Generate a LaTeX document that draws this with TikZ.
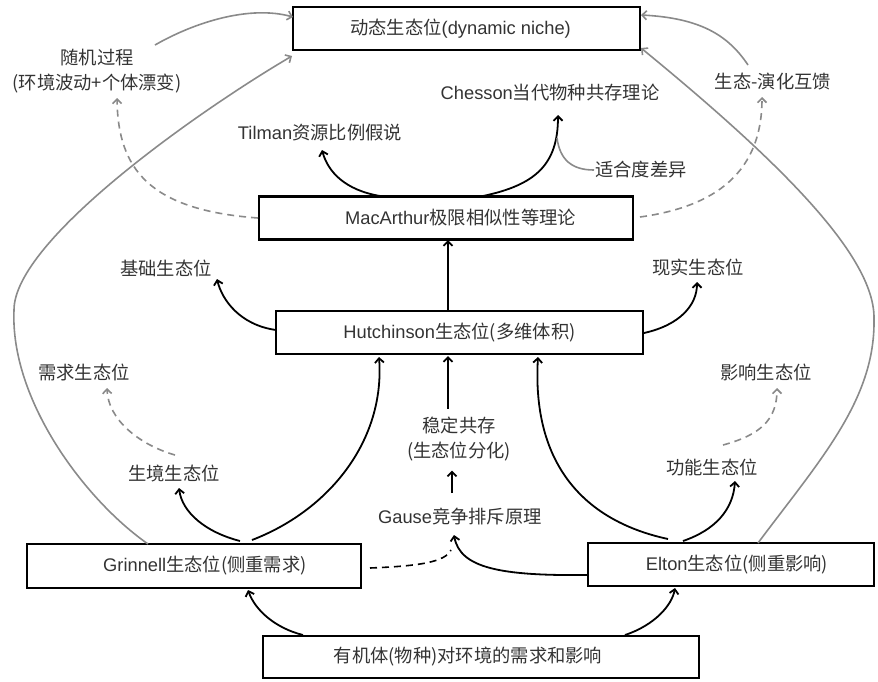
\documentclass[tikz,border=0pt]{standalone}
\usepackage{fontspec}
\setmainfont{Liberation Sans}
\newfontfamily\cjk{Noto Sans CJK SC}
\usetikzlibrary{arrows.meta}
\newcommand{\zh}[1]{{\cjk #1}}
\definecolor{txt}{HTML}{333333}
\definecolor{lgray}{HTML}{8A8A8A}
\begin{document}
\begin{tikzpicture}[x=1pt,y=-1pt,
  every node/.style={font=\fontsize{18.3}{25}\selectfont, text=txt},
  box/.style={draw=black, line width=2.6pt, inner sep=0pt, minimum height=43pt},
  lbl/.style={inner sep=1pt, align=center},
  tip/.style={-{Straight Barb[length=4.5pt,width=9pt]}},
  arr/.style={draw=black, line width=1.8pt, tip},
  garr/.style={draw=lgray, line width=1.6pt, tip},
  dgarr/.style={garr, dash pattern=on 7pt off 5pt},
  dline/.style={draw=black, line width=1.6pt, dash pattern=on 7pt off 5pt}
]
\useasboundingbox (0,0) rectangle (878,681);

% boxes
\node[box, minimum width=347pt] (dyn) at (466.5,28.5) {\zh{动态生态位}(dynamic niche)\hspace*{12pt}};
\node[box, minimum width=374pt] (mac) at (446,218) {\hspace*{29pt}MacArthur\zh{极限相似性等理论}};
\node[box, minimum width=367pt] (hut) at (459.5,332.5) {Hutchinson\zh{生态位(多维体积)}};
\node[box, minimum width=334pt, minimum height=44pt] (grin) at (194,566) {\hspace*{22pt}Grinnell\zh{生态位(侧重需求)}};
\node[box, minimum width=286pt] (elton) at (731,564.5) {\hspace*{12pt}Elton\zh{生态位(侧重影响)}};
\node[box, minimum width=436pt, minimum height=42pt] (bot) at (481,657) {\zh{有机体(物种)对环境的需求和影响}\hspace*{26pt}};

% labels
\node[lbl] (rand) at (97,71) {\zh{随机过程}\\\zh{(环境波动+个体漂变)}};
\node[lbl] (tilman) at (320,133) {Tilman\zh{资源比例假说}};
\node[lbl] (chesson) at (550,93) {Chesson\zh{当代物种共存理论}};
\node[lbl] (fit) at (641,170) {\zh{适合度差异}};
\node[lbl] (eco) at (773,82) {\zh{生态-演化互馈}};
\node[lbl] (fund) at (166,268) {\zh{基础生态位}};
\node[lbl] (real) at (698,268) {\zh{现实生态位}};
\node[lbl] (need) at (84,372) {\zh{需求生态位}};
\node[lbl] (impact) at (766,372) {\zh{影响生态位}};
\node[lbl] (stable) at (459,439.5) {\zh{稳定共存}\\\zh{(生态位分化)}};
\node[lbl] (habitat) at (174,473) {\zh{生境生态位}};
\node[lbl] (func) at (712,467) {\zh{功能生态位}};
\node[lbl] (gause) at (460,517) {Gause\zh{竞争排斥原理}};

% gray curves to dynamic niche
\draw[garr] ([shift={(58,-26)}]rand.center) .. controls (195,22) and (250,5) .. ([shift={(-173.5,-11.5)}]dyn.center);
\draw[garr] ([shift={(-46,-22)}]grin.center) .. controls (85,500) and (10,400) .. (14,310)
   .. controls (14,240) and (200,110) .. ([shift={(-174.5,27.5)}]dyn.center);
\draw[garr] ([shift={(-25,-17)}]eco.center) .. controls (728,35) and (700,18) .. ([shift={(174.5,-13.5)}]dyn.center);
\draw[garr] ([shift={(27,-21.5)}]elton.center) .. controls (820,460) and (875,400) .. (874,320)
   .. controls (876,260) and (790,170) .. ([shift={(174.5,19.5)}]dyn.center);

% dashed gray
\draw[dgarr] ([shift={(-188,0)}]mac.center) .. controls (150,210) and (118,170) .. ([shift={(20,27)}]rand.center);
\draw[dgarr] ([shift={(194,-1)}]mac.center) .. controls (705,208) and (762,180) .. ([shift={(-11,15)}]eco.center);
\draw[dgarr] ([shift={(1,-18)}]habitat.center) .. controls (140,445) and (108,420) .. ([shift={(23,16)}]need.center);
\draw[dgarr] ([shift={(11,-22)}]func.center) .. controls (760,435) and (777,420) .. ([shift={(11,16)}]impact.center);

% MacArthur to Tilman / Chesson
\draw[arr] ([shift={(-66,-22)}]mac.center) .. controls (345,190) and (328,172) .. ([shift={(2,17)}]tilman.center);
\draw[arr] ([shift={(37,-22)}]mac.center) .. controls (535,185) and (558,165) .. ([shift={(8,22)}]chesson.center);
\coordinate (join) at (557,138);
\draw[draw=lgray, line width=1.6pt] ([shift={(-47,0)}]fit.center) .. controls (572,170) and (560,160) .. (join);

% Hutchinson
\draw[arr] ([shift={(-11.5,-21.5)}]hut.center) -- ([shift={(2,22)}]mac.center);
\draw[arr] ([shift={(-183.5,-2.5)}]hut.center) .. controls (240,325) and (222,300) .. ([shift={(51,11)}]fund.center);
\draw[arr] ([shift={(184.5,0.5)}]hut.center) .. controls (680,325) and (697,305) .. ([shift={(-1,14)}]real.center);
\draw[arr] ([shift={(-11,-31)}]stable.center) -- ([shift={(-11.5,23.5)}]hut.center);
\draw[arr] ([shift={(-8,-24)}]gause.center) -- ([shift={(-7,31)}]stable.center);

% Grinnell
\draw[arr] ([shift={(58,-26)}]grin.center) .. controls (330,510) and (385,440) .. ([shift={(-80.5,24.5)}]hut.center);
\draw[arr] ([shift={(46,-25)}]grin.center) .. controls (205,532) and (182,512) .. ([shift={(5,15)}]habitat.center);
\draw[dline] ([shift={(176,2)}]grin.center) .. controls (420,566) and (445,562) .. ([shift={(-9,33)}]gause.center);

% Elton
\draw[arr] ([shift={(-143,10.5)}]elton.center) .. controls (500,576) and (460,568) .. ([shift={(-6,18)}]gause.center);
\draw[arr] ([shift={(-63,-25.5)}]elton.center) .. controls (580,520) and (532,460) .. ([shift={(78.5,24.5)}]hut.center);
\draw[arr] ([shift={(-48,-23.5)}]elton.center) .. controls (715,530) and (733,510) .. ([shift={(23,14)}]func.center);

% bottom
\draw[arr] ([shift={(-178,-22)}]bot.center) .. controls (275,628) and (255,610) .. ([shift={(54,24)}]grin.center);
\draw[arr] ([shift={(144,-22)}]bot.center) .. controls (655,625) and (672,605) .. ([shift={(-56,23.5)}]elton.center);
\end{tikzpicture}
\end{document}
